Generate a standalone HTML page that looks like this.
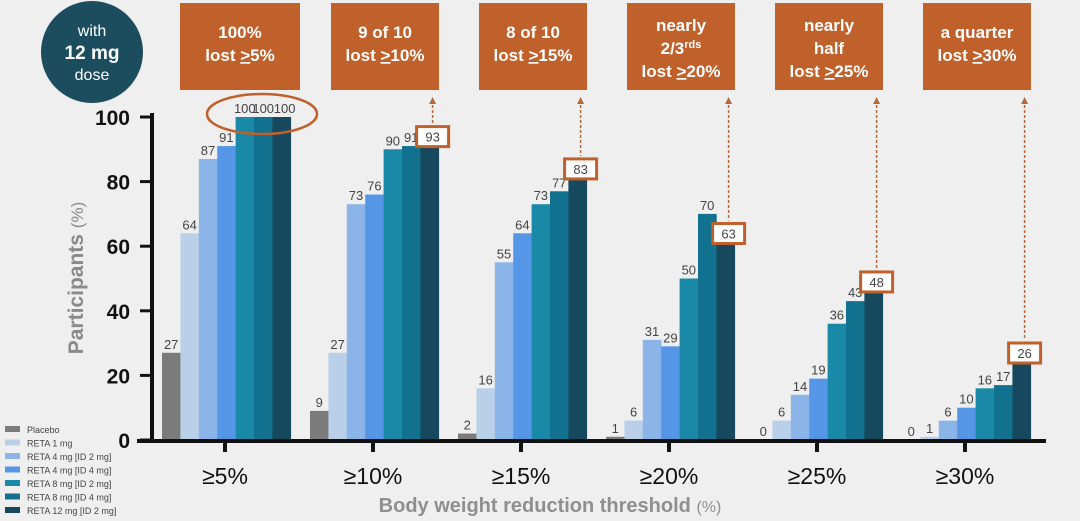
<!DOCTYPE html>
<html><head><meta charset="utf-8">
<style>
html,body{margin:0;padding:0;background:#efefef;}
svg{display:block;font-family:"Liberation Sans",sans-serif;}
</style></head>
<body>
<svg id="chart" width="1080" height="521" viewBox="0 0 1080 521">
<rect x="0" y="0" width="1080" height="521" fill="#efefef"/>
<g>
<circle cx="92" cy="52" r="51" fill="#1c4d5e"/>
<text x="92" y="36" text-anchor="middle" fill="#fff" font-size="16">with</text>
<text x="92" y="59" text-anchor="middle" fill="#fff" font-size="19" font-weight="bold">12 mg</text>
<text x="92" y="80" text-anchor="middle" fill="#fff" font-size="16">dose</text>
</g>
<g id="plot"></g>
</svg>
<script>
const categories = ["≥5%","≥10%","≥15%","≥20%","≥25%","≥30%"];
const seriesNames = ["Placebo","RETA 1 mg","RETA 4 mg [ID 2 mg]","RETA 4 mg [ID 4 mg]","RETA 8 mg [ID 2 mg]","RETA 8 mg [ID 4 mg]","RETA 12 mg [ID 2 mg]"];
const placebo = [27,9,2,1,0,0];
const reta1 = [64,27,16,6,6,1];
const reta4id2 = [87,73,55,31,14,6];
const reta4id4 = [91,76,64,29,19,10];
const reta8id2 = [100,90,73,50,36,16];
const reta8id4 = [100,91,77,70,43,17];
const reta12 = [100,93,83,63,48,26];
const yTicks = [0,20,40,60,80,100];
const calloutLines = [["100%","lost ≥5%"],["9 of 10","lost ≥10%"],["8 of 10","lost ≥15%"],["nearly","2/3rds","lost ≥20%"],["nearly","half","lost ≥25%"],["a quarter","lost ≥30%"]];

const series=[placebo,reta1,reta4id2,reta4id4,reta8id2,reta8id4,reta12];
const colors=["#7b7b7b","#b9d0e8","#8bb4e9","#5596e6","#1a89a8","#12718e","#16495e"];
const NS="http://www.w3.org/2000/svg";
const g=document.getElementById('plot');
function el(t,a,p){const e=document.createElementNS(NS,t);for(const k in a)e.setAttribute(k,a[k]);(p||g).appendChild(e);return e;}
const y0=440,y100=117;
function Y(v){return y0-(v/100)*(y0-y100);}
function X(i){return 225+i*148;}
const bw=18.4;
function barX(i,s){return X(i)-63+s*bw;}

calloutLines.forEach((lines,i)=>{
  const cx=X(i)+(i==0?15:12);
  const w=i==0?120:108;
  const r=el('rect',{x:cx-w/2,y:3,width:w,height:87,fill:'#c0602a'});
  
  
  const n=lines.length;
  lines.forEach((ln,j)=>{
    const t=el('text',{x:cx,y:(n==3?31:38)+j*(n==3?23:23),'text-anchor':'middle',fill:'#fff','font-size':17,'font-weight':'bold'});
    if(ln==="2/3rds"){t.textContent="2/3";const ts=el('tspan',{'font-size':11,dy:-6},t);ts.textContent="rds";}
    else if(ln.includes("≥")){const p=ln.split("≥");t.textContent=p[0];const ts=el('tspan',{'text-decoration':'underline'},t);ts.textContent=">";const t2=el('tspan',{},t);t2.textContent=p[1];}
    else t.textContent=ln;
    
    
  });
});

yTicks.forEach(v=>{
  const t=el('text',{x:130,y:Y(v)+8,'text-anchor':'end','font-size':21,'font-weight':'bold',fill:'#111'});
  t.textContent=v;
  
  
  el('line',{x1:140,x2:152,y1:Y(v),y2:Y(v),stroke:'#111','stroke-width':3});
});
const yt=el('text',{x:83,y:278,transform:'rotate(-90 83 278)','text-anchor':'middle','font-size':21,'font-weight':'bold',fill:'#8a8a8a'});
yt.textContent='Participants ';
const yts=el('tspan',{'font-weight':'normal','font-size':17},yt);yts.textContent='(%)';



categories.forEach((c,i)=>{
  series.forEach((s,k)=>{
    const v=s[i];
    const b=el('rect',{x:barX(i,k),y:Y(v),width:bw+0.3,height:y0-Y(v),fill:colors[k]});
    
    
    if(k<6){
      const t=el('text',{x:barX(i,k)+bw/2,y:Y(v)-4,'text-anchor':'middle','font-size':13,fill:'#444'});
      t.textContent=v;
      
      
    }
  });
  const v=series[6][i];
  const lx=barX(i,6)+bw/2+3;
  if(i==0){
    const t=el('text',{x:lx,y:Y(v)-4,'text-anchor':'middle','font-size':13,fill:'#444'});t.textContent=v;
    const e=el('ellipse',{cx:262,cy:114,rx:55,ry:20,fill:'none',stroke:'#c0602a','stroke-width':2.5});
    
    
  } else {
    const by=Y(v)-13;
    const a=el('line',{x1:lx,x2:lx,y1:100,y2:by-3,stroke:'#b5683a','stroke-width':1.5,'stroke-dasharray':'3,2'});
    
    
    el('path',{d:`M${lx-3.5} 104 L${lx} 97 L${lx+3.5} 104 Z`,fill:'#b5683a'});
    const r=el('rect',{x:lx-16,y:by,width:32,height:20,fill:'#fff',stroke:'#c0602a','stroke-width':3});
    
    
    const t=el('text',{x:lx,y:by+15,'text-anchor':'middle','font-size':13,fill:'#444'});t.textContent=v;
  }
  el('line',{x1:X(i),x2:X(i),y1:y0,y2:y0+12,stroke:'#111','stroke-width':4});
  const xl=el('text',{x:X(i),y:484,'text-anchor':'middle','font-size':23,fill:'#111'});
  xl.textContent=c;
  
  
});
el('line',{x1:152,x2:152,y1:113,y2:442,stroke:'#111','stroke-width':4});
el('line',{x1:137,x2:1046,y1:441,y2:441,stroke:'#111','stroke-width':4});
const xt=el('text',{x:550,y:512,'text-anchor':'middle','font-size':20,'font-weight':'bold',fill:'#8f8f8f'});
xt.textContent='Body weight reduction threshold ';
const xts=el('tspan',{'font-weight':'normal','font-size':16},xt);xts.textContent='(%)';


seriesNames.forEach((n,k)=>{
  const yy=430+k*13.5;
  el('rect',{x:5,y:yy-4,width:15,height:6,fill:colors[k]});
  const t=el('text',{x:27,y:yy+3,'font-size':9,fill:'#444'});
  t.textContent=n;
  
  
});
</script>
</body></html>
